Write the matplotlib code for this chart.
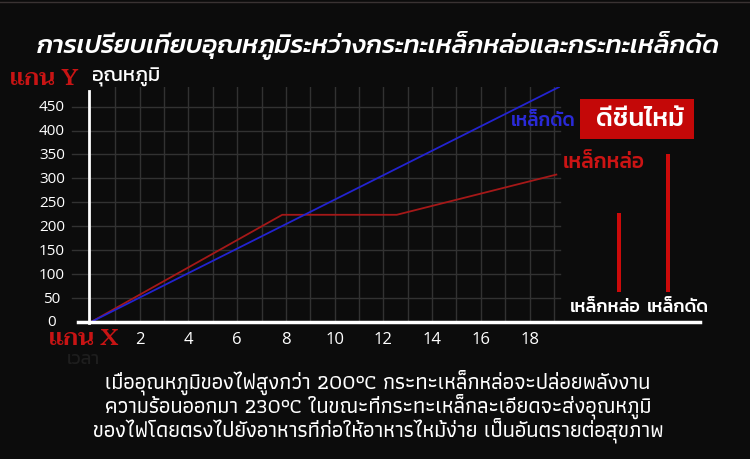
import matplotlib
matplotlib.use("Agg")
import matplotlib.pyplot as plt
from matplotlib.lines import Line2D
from matplotlib.patches import Rectangle

# ---------------- data ----------------
cast_x = [0, 7.85, 12.55, 19.1]
cast_y = [0, 224, 224, 308]
wrought_x = [0, 19.25]
wrought_y = [0, 492]
x_ticks = [2, 4, 6, 8, 10, 12, 14, 16, 18]
y_ticks = [0, 50, 100, 150, 200, 250, 300, 350, 400, 450]
bar_labels = ["เหล็กหล่อ", "เหล็กดัด"]
bar_values = [230, 400]

title = "การเปรียบเทียบอุณหภูมิระหว่างกระทะเหล็กหล่อและกระทะเหล็กดัด"
caption = ["เมื่ออุณหภูมิของไฟสูงกว่า 200°C กระทะเหล็กหล่อจะปล่อยพลังงาน",
           "ความร้อนออกมา 230°C ในขณะที่กระทะเหล็กละเอียดจะส่งอุณหภูมิ",
           "ของไฟโดยตรงไปยังอาหารที่ก่อให้อาหารไหม้ง่าย เป็นอันตรายต่อสุขภาพ"]

W, H = 750, 460
BG = "#0c0c0c"
RED = "#c81414"
fig = plt.figure(figsize=(W / 100, H / 100), dpi=100, facecolor=BG)

def fx(px):
    return px / W

def fy(py):
    return 1 - py / H

# top thin line
fig.add_artist(Line2D([0, 1], [fy(3), fy(3)], color="#3a3333", lw=1))

# ---------------- main axes ----------------
x0, x1, y0, y1 = 91, 560, 323, 88
ax = fig.add_axes([fx(x0), fy(y0), fx(x1 - x0), (y0 - y1) / H])
ax.set_facecolor(BG)
ax.set_xlim(0, 19.25)
ax.set_ylim(0, 491)
for s in ax.spines.values():
    s.set_visible(False)
ax.set_xticks([])
ax.set_yticks([])

grid_c = "#323232"
for v in range(1, 20):
    ax.plot([v, v], [0, 491], color=grid_c, lw=1, zorder=1)
for v in y_ticks[1:]:
    ax.plot([-0.8, 19.25], [v, v], color=grid_c, lw=1, zorder=1, clip_on=False)

ax.plot(cast_x, cast_y, color="#a51818", lw=1.3, zorder=3)
ax.plot(wrought_x, wrought_y, color="#2323d0", lw=1.3, zorder=3)

# tick labels
for v in y_ticks:
    py = y0 - v * (y0 - y1) / 491
    fig.text(fx(52), fy(py), str(v), color="white", ha="center", va="center",
             fontsize=11, family="Open Sans")
for v in x_ticks:
    px = x0 + v * (x1 - x0) / 19.25
    fig.text(fx(px), fy(340), str(v), color="white", ha="center", va="center",
             fontsize=12, family="Open Sans")

# axis lines
fig.add_artist(Line2D([fx(89), fx(89)], [fy(92), fy(324)], color="white", lw=2))
fig.add_artist(Line2D([fx(78), fx(700)], [fy(323), fy(323)], color="white", lw=2.5))

# ---------------- texts ----------------
fig.text(fx(378), fy(46), title, color="white", ha="center", va="center",
         fontsize=18.6, family="Kanit", style="italic", weight=500)
fig.text(fx(10), fy(80), "แกน Y", color=RED, ha="left", va="center",
         fontsize=17, family="Taviraj", weight=600)
fig.text(fx(92), fy(77), "อุณหภูมิ", color="white", ha="left", va="center",
         fontsize=14.5, family="Kanit", weight=400)
fig.text(fx(49), fy(340), "แกน X", color=RED, ha="left", va="center",
         fontsize=17, family="Taviraj", weight=600)
fig.text(fx(83), fy(360), "เวลา", color="#1e1e1e", ha="center", va="center",
         fontsize=13, family="Kanit", zorder=0)

fig.text(fx(543), fy(121), "เหล็กดัด", color="#2a2ad8", ha="center", va="center",
         fontsize=13.5, family="Kanit", weight=500)
fig.add_artist(Rectangle((fx(580), fy(140)), fx(114), (140 - 100) / H,
                         facecolor="#c40808", edgecolor="none"))
fig.text(fx(640), fy(120), "ดีชีนไหม้", color="white", ha="center", va="center",
         fontsize=18.5, family="Kanit", weight=500)
fig.text(fx(604), fy(163), "เหล็กหล่อ", color="#cc1414", ha="center", va="center",
         fontsize=15, family="Kanit", weight=500)

# ---------------- mini bar chart ----------------
bx0, bx1, by0, by1 = 600, 690, 293, 150
bax = fig.add_axes([fx(bx0), fy(by0), fx(bx1 - bx0), (by0 - by1) / H])
bax.set_facecolor("none")
bax.patch.set_alpha(0)
bax.set_xlim(-19 / 49, (bx1 - 619) / 49)
bax.set_ylim(0, (by0 - by1) / 0.345)
bax.bar([0, 1], bar_values, width=3.2 / 49, color="#cc0a0a")
bax.axis("off")
fig.text(fx(605), fy(307), bar_labels[0], color="white", ha="center", va="center",
         fontsize=13, family="Kanit", weight=500)
fig.text(fx(678), fy(307), bar_labels[1], color="white", ha="center", va="center",
         fontsize=13, family="Kanit", weight=500)

# caption (one multi-line text block)
fig.text(fx(378), fy(406), "\n".join(caption), color="white", ha="center", va="center",
         multialignment="center", fontsize=15.6, family="Athiti", weight=500,
         linespacing=0.92)

fig.savefig("out.png", dpi=100, facecolor=BG)
